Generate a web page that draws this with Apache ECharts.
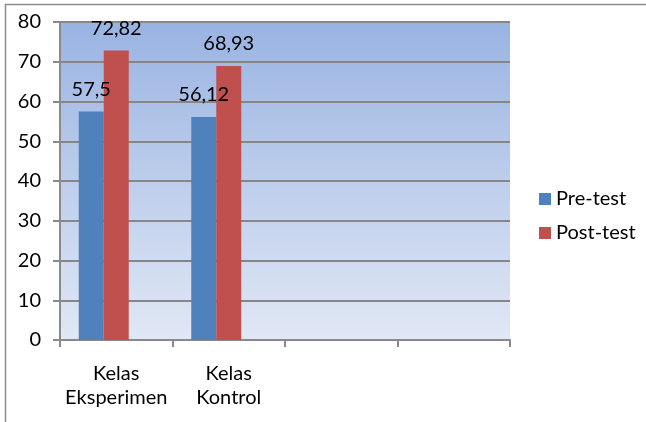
<!DOCTYPE html>
<html><head><meta charset="utf-8">
<script src="https://cdn.jsdelivr.net/npm/echarts@6/dist/echarts.min.js"></script>
<style>html,body{margin:0;padding:0;background:#fff}#c{width:646px;height:422px}</style>
</head><body><div id="c"></div>
<script>
var categories = ['Kelas\nEksperimen', 'Kelas\nKontrol', '', ''];
var preTest = [57.5, 56.12, null, null];
var postTest = [72.82, 68.93, null, null];
var emptySeries = [null, null, null, null];
var seriesNames = ['Pre-test', 'Post-test'];
var yTicks = {min: 0, max: 80, interval: 10};

var FONT = 'Lato';
var FS = 20;
var chart = echarts.init(document.getElementById('c'), null, {renderer: 'canvas'});
function fmt(p){ return p.value == null ? '' : String(p.value).replace('.', ','); }
var labelCfg = {show: true, position: 'top', distance: 12, color: '#000', fontFamily: FONT, fontSize: FS, formatter: fmt};
chart.setOption({
  animation: false,
  textStyle: {fontFamily: FONT},
  graphic: [{type: 'rect', shape: {x: 5.5, y: 4.5, width: 700, height: 500}, style: {fill: 'none', stroke: '#8c8c8c', lineWidth: 1.5}, z: -10}],
  grid: {left: 60, right: 136, top: 22, bottom: 82, containLabel: false,
    show: true, borderWidth: 0,
    backgroundColor: {type: 'linear', x: 0, y: 0, x2: 0, y2: 1, colorStops: [{offset: 0, color: '#99B3E2'}, {offset: 1, color: '#E1E8F5'}]}},
  legend: {
    data: seriesNames, orient: 'vertical', left: 534, top: 184, itemWidth: 12, itemHeight: 12, itemGap: 14,
    icon: 'rect', textStyle: {fontFamily: FONT, fontSize: FS, color: '#000'}
  },
  xAxis: {
    type: 'category', data: categories,
    axisLine: {lineStyle: {color: '#8a8a8a', width: 2}},
    axisTick: {show: true, length: 7, alignWithLabel: false, lineStyle: {color: '#8a8a8a', width: 2}},
    axisLabel: {color: '#000', fontFamily: FONT, fontSize: FS, lineHeight: 24, margin: 22, interval: 0}
  },
  yAxis: {
    type: 'value', min: yTicks.min, max: yTicks.max, interval: yTicks.interval,
    axisLine: {show: true, lineStyle: {color: '#8a8a8a', width: 2}},
    axisTick: {show: true, length: 7, lineStyle: {color: '#8a8a8a', width: 2}},
    axisLabel: {color: '#000', fontFamily: FONT, fontSize: FS, margin: 19},
    splitLine: {show: true, lineStyle: {color: '#868686', width: 2}}
  },
  series: [
    {name: seriesNames[0], type: 'bar', data: preTest, barWidth: 25, barGap: '0%', itemStyle: {color: '#4F81BD'}, label: labelCfg},
    {name: seriesNames[1], type: 'bar', data: postTest, barWidth: 25, barGap: '0%', itemStyle: {color: '#C0504D'}, label: labelCfg},
    {name: 'empty', type: 'bar', data: emptySeries, barWidth: 25, barGap: '0%', itemStyle: {color: 'transparent'}}
  ]
});
</script></body></html>
